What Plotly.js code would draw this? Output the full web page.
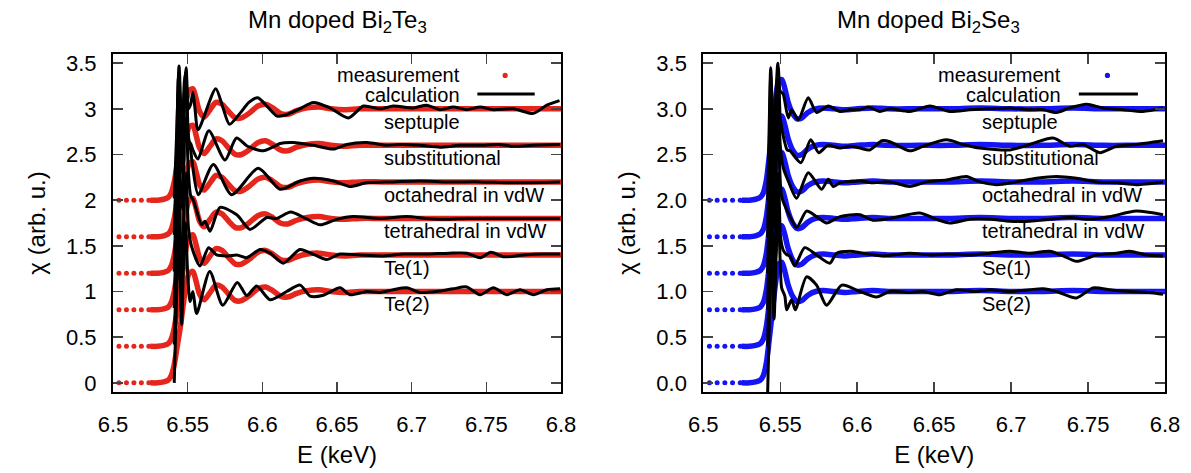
<!DOCTYPE html>
<html><head><meta charset="utf-8">
<script src="https://cdn.plot.ly/plotly-3.0.1.min.js"></script>
<style>body{margin:0;background:#fff}#chart{width:1191px;height:473px}</style>
</head><body><div id="chart"></div>
<script>
// ---------- data ----------
const offsets = [2.0, 1.6, 1.2, 0.8, 0.4, 0.0];
const teLabels = ['septuple', 'substitutional', 'octahedral in vdW', 'tetrahedral in vdW', 'Te(1)', 'Te(2)'];
const seLabels = ['septuple', 'substitutional', 'octahedral in vdW', 'tetrahedral in vdW', 'Se(1)', 'Se(2)'];
const labelY = [2.86, 2.46, 2.06, 1.66, 1.26, 0.86];
const xTicks = [6.5, 6.55, 6.6, 6.65, 6.7, 6.75, 6.8];
const yTicks = [0, 0.5, 1, 1.5, 2, 2.5, 3, 3.5];

// measurement: sparse pre-edge points + dense part (normalised, before offset)
const preE = [6.504, 6.509, 6.514, 6.519, 6.524];
const preMu = [0, 0, 0, 0, 0];
const teMeasE = [6.525, 6.530, 6.534, 6.537, 6.539, 6.541, 6.543, 6.545, 6.547, 6.549, 6.551, 6.5535, 6.5555, 6.558, 6.561, 6.565, 6.569, 6.573, 6.578, 6.582, 6.586, 6.591, 6.597, 6.602, 6.607, 6.612, 6.617, 6.623, 6.630, 6.638, 6.646, 6.655, 6.665, 6.680, 6.700, 6.720, 6.740, 6.760, 6.780, 6.800];
const teMeasMu = [0, 0, 0.01, 0.03, 0.08, 0.2, 0.4, 0.6, 0.85, 1.08, 1.2, 1.22, 1.12, 0.97, 0.91, 0.99, 1.07, 1.05, 0.96, 0.9, 0.9, 0.95, 1.03, 1.05, 1.01, 0.95, 0.94, 0.98, 1.01, 1.02, 1.0, 0.99, 1.0, 1.0, 1.0, 1.0, 1.0, 1.0, 1.0, 1.0];
const seMeasE = [6.525, 6.530, 6.534, 6.537, 6.539, 6.541, 6.543, 6.545, 6.547, 6.549, 6.551, 6.553, 6.555, 6.558, 6.561, 6.564, 6.568, 6.573, 6.578, 6.585, 6.592, 6.600, 6.610, 6.620, 6.640, 6.660, 6.680, 6.700, 6.720, 6.740, 6.760, 6.780, 6.800];
const seMeasMu = [0, 0, 0.01, 0.03, 0.08, 0.22, 0.5, 0.8, 1.1, 1.3, 1.32, 1.22, 1.08, 0.95, 0.89, 0.9, 0.96, 1.0, 1.01, 1.0, 0.99, 1.0, 1.01, 1.0, 1.0, 1.0, 1.01, 1.0, 1.0, 1.01, 1.0, 1.0, 1.0];

// calculations, Bi2Te3 (values as plotted)
const teSeptE = [6.5410, 6.5428, 6.5442, 6.5455, 6.5465, 6.5478, 6.5490, 6.5505, 6.5520, 6.5535, 6.5548, 6.5570, 6.5688, 6.5735, 6.5780, 6.5850, 6.5910, 6.5970, 6.6030, 6.6100, 6.6150, 6.6250, 6.6342, 6.6453, 6.6576, 6.6677, 6.6788, 6.6877, 6.7011, 6.7101, 6.7190, 6.7279, 6.7369, 6.7458, 6.7547, 6.7681, 6.7815, 6.7905, 6.7990];
const teSeptY = [2.02, 2.80, 3.47, 3.00, 2.75, 3.20, 3.45, 3.00, 3.05, 3.18, 3.02, 2.77, 3.22, 3.02, 2.83, 2.95, 3.07, 3.12, 3.03, 2.92, 2.93, 3.00, 3.07, 3.01, 2.90, 3.03, 3.00, 3.03, 3.01, 3.04, 2.99, 3.02, 2.99, 3.02, 2.99, 3.00, 2.95, 3.04, 3.09];
const teSubsE = [6.5410, 6.5425, 6.5438, 6.5450, 6.5463, 6.5478, 6.5490, 6.5505, 6.5520, 6.5535, 6.5569, 6.5642, 6.5750, 6.5827, 6.5900, 6.6007, 6.6070, 6.6119, 6.6208, 6.6342, 6.6476, 6.6565, 6.6700, 6.6833, 6.6922, 6.7056, 6.7190, 6.7324, 6.7458, 6.7580, 6.7680, 6.7815, 6.7994];
const teSubsY = [1.62, 2.50, 3.35, 2.80, 2.55, 3.30, 3.40, 2.65, 2.62, 2.55, 2.45, 2.76, 2.44, 2.68, 2.59, 2.54, 2.58, 2.62, 2.63, 2.60, 2.56, 2.61, 2.63, 2.60, 2.61, 2.60, 2.58, 2.60, 2.60, 2.61, 2.59, 2.60, 2.61];
const teOctaE = [6.5410, 6.5425, 6.5438, 6.5450, 6.5463, 6.5478, 6.5490, 6.5505, 6.5520, 6.5535, 6.5571, 6.5672, 6.5795, 6.5973, 6.6119, 6.6252, 6.6342, 6.6476, 6.6587, 6.6698, 6.6877, 6.7056, 6.7235, 6.7458, 6.7681, 6.7994];
const teOctaY = [1.22, 2.20, 3.20, 2.60, 2.30, 3.10, 3.30, 2.70, 2.55, 2.35, 2.06, 2.39, 2.06, 2.35, 2.12, 2.21, 2.24, 2.21, 2.15, 2.19, 2.20, 2.21, 2.20, 2.20, 2.19, 2.20];
const teTetrE = [6.5410, 6.5425, 6.5438, 6.5450, 6.5465, 6.5478, 6.5490, 6.5505, 6.5520, 6.5538, 6.5594, 6.5616, 6.5650, 6.5717, 6.5829, 6.5918, 6.6030, 6.6096, 6.6190, 6.6290, 6.6387, 6.6498, 6.6610, 6.6788, 6.6967, 6.7101, 6.7235, 6.7369, 6.7547, 6.7770, 6.7994];
const teTetrY = [0.82, 1.80, 2.90, 2.20, 1.90, 2.70, 2.90, 2.30, 2.05, 2.00, 1.73, 1.77, 1.66, 1.92, 1.84, 1.68, 1.81, 1.80, 1.87, 1.80, 1.73, 1.79, 1.82, 1.80, 1.82, 1.80, 1.79, 1.80, 1.80, 1.80, 1.80];
const teTe1E = [6.5410, 6.5425, 6.5437, 6.5450, 6.5462, 6.5475, 6.5490, 6.5505, 6.5527, 6.5583, 6.5640, 6.5694, 6.5772, 6.5829, 6.5895, 6.5985, 6.6052, 6.6141, 6.6252, 6.6350, 6.6431, 6.6520, 6.6650, 6.6800, 6.6950, 6.7100, 6.7250, 6.7370, 6.7460, 6.7530, 6.7620, 6.7750, 6.7880, 6.7994];
const teTe1Y = [0.42, 1.30, 2.40, 1.60, 1.10, 1.90, 2.30, 1.70, 1.49, 1.28, 1.48, 1.40, 1.39, 1.40, 1.37, 1.46, 1.42, 1.31, 1.46, 1.40, 1.35, 1.41, 1.40, 1.39, 1.41, 1.41, 1.42, 1.42, 1.37, 1.43, 1.38, 1.40, 1.41, 1.41];
const teTe2E = [6.5410, 6.5425, 6.5437, 6.5448, 6.5460, 6.5472, 6.5485, 6.5500, 6.5516, 6.5535, 6.5560, 6.5648, 6.5735, 6.5832, 6.5896, 6.5962, 6.6052, 6.6163, 6.6253, 6.6320, 6.6409, 6.6520, 6.6587, 6.6699, 6.6788, 6.6877, 6.6967, 6.7056, 6.7168, 6.7279, 6.7369, 6.7458, 6.7547, 6.7636, 6.7726, 6.7815, 6.7905, 6.7994];
const teTe2Y = [0.00, 0.90, 1.90, 1.20, 0.64, 1.30, 1.75, 1.20, 0.89, 1.00, 0.76, 1.22, 0.85, 1.10, 0.955, 1.06, 0.91, 1.00, 1.07, 0.95, 0.96, 1.04, 0.965, 1.00, 0.99, 1.02, 1.04, 0.99, 1.00, 1.03, 1.05, 0.965, 1.04, 0.965, 1.02, 0.965, 1.02, 1.03];

// calculations, Bi2Se3 (values as plotted)
const seSeptE = [6.5418, 6.5428, 6.5438, 6.5450, 6.5462, 6.5476, 6.5484, 6.5498, 6.5519, 6.5552, 6.5574, 6.5617, 6.5682, 6.5736, 6.5812, 6.5888, 6.5953, 6.6018, 6.6071, 6.6147, 6.6212, 6.6342, 6.6472, 6.6602, 6.6732, 6.6862, 6.6992, 6.7121, 6.7208, 6.7295, 6.7381, 6.7490, 6.7597, 6.7727, 6.7857, 6.7987];
const seSeptY = [2.00, 2.80, 3.45, 3.00, 2.90, 3.30, 3.50, 3.20, 3.16, 2.90, 2.99, 2.88, 3.12, 2.96, 3.03, 2.97, 2.99, 2.99, 3.02, 2.97, 3.00, 2.97, 3.03, 2.97, 2.99, 3.00, 3.01, 2.99, 2.99, 2.96, 3.01, 3.05, 3.01, 2.99, 2.97, 3.01];
const seSubsE = [6.5418, 6.5428, 6.5438, 6.5450, 6.5462, 6.5476, 6.5488, 6.5500, 6.5520, 6.5545, 6.5563, 6.5634, 6.5698, 6.5750, 6.5810, 6.5888, 6.5953, 6.6018, 6.6082, 6.6160, 6.6212, 6.6342, 6.6429, 6.6581, 6.6688, 6.6797, 6.6992, 6.7121, 6.7273, 6.7381, 6.7468, 6.7576, 6.7684, 6.7814, 6.7987];
const seSubsY = [1.60, 2.50, 3.36, 2.90, 2.60, 3.20, 3.45, 2.90, 2.70, 2.55, 2.54, 2.41, 2.66, 2.52, 2.60, 2.57, 2.59, 2.57, 2.55, 2.65, 2.64, 2.54, 2.59, 2.66, 2.61, 2.57, 2.55, 2.61, 2.68, 2.59, 2.61, 2.52, 2.59, 2.61, 2.65];
const seOctaE = [6.5418, 6.5428, 6.5438, 6.5450, 6.5462, 6.5476, 6.5488, 6.5500, 6.5520, 6.5552, 6.5606, 6.5682, 6.5769, 6.5812, 6.5844, 6.5888, 6.6018, 6.6104, 6.6212, 6.6342, 6.6451, 6.6581, 6.6710, 6.6797, 6.6905, 6.7035, 6.7165, 6.7295, 6.7425, 6.7555, 6.7684, 6.7814, 6.7987];
const seOctaY = [1.20, 2.10, 3.10, 2.60, 2.20, 2.90, 3.30, 2.60, 2.35, 2.21, 2.02, 2.30, 2.12, 2.23, 2.15, 2.19, 2.21, 2.19, 2.20, 2.15, 2.20, 2.22, 2.26, 2.20, 2.17, 2.20, 2.24, 2.26, 2.24, 2.20, 2.19, 2.17, 2.20];
const seTetrE = [6.5418, 6.5428, 6.5438, 6.5450, 6.5462, 6.5476, 6.5488, 6.5509, 6.5563, 6.5606, 6.5671, 6.5736, 6.5801, 6.5888, 6.6018, 6.6100, 6.6212, 6.6407, 6.6516, 6.6602, 6.6732, 6.6862, 6.6992, 6.7121, 6.7251, 6.7381, 6.7511, 6.7641, 6.7814, 6.7987];
const seTetrY = [0.80, 1.70, 2.80, 2.20, 1.70, 2.50, 2.90, 2.04, 1.82, 1.70, 1.88, 1.82, 1.75, 1.82, 1.84, 1.78, 1.80, 1.86, 1.79, 1.75, 1.79, 1.79, 1.77, 1.77, 1.79, 1.81, 1.79, 1.82, 1.88, 1.84];
const seSe1E = [6.5418, 6.5428, 6.5438, 6.5450, 6.5462, 6.5476, 6.5488, 6.5502, 6.5520, 6.5545, 6.5563, 6.5594, 6.5659, 6.5736, 6.5823, 6.5866, 6.5953, 6.6039, 6.6169, 6.6342, 6.6472, 6.6602, 6.6732, 6.6862, 6.6992, 6.7121, 6.7251, 6.7338, 6.7425, 6.7555, 6.7684, 6.7771, 6.7879, 6.7987];
const seSe1Y = [0.40, 1.20, 2.20, 1.60, 1.20, 2.00, 2.30, 1.60, 1.45, 1.40, 1.39, 1.28, 1.48, 1.40, 1.31, 1.42, 1.44, 1.42, 1.39, 1.42, 1.40, 1.41, 1.40, 1.42, 1.44, 1.42, 1.44, 1.39, 1.33, 1.40, 1.42, 1.44, 1.40, 1.39];
const seSe2E = [6.5418, 6.5428, 6.5438, 6.5448, 6.5460, 6.5475, 6.5488, 6.5500, 6.5509, 6.5530, 6.5542, 6.5574, 6.5598, 6.5671, 6.5736, 6.5801, 6.5900, 6.6018, 6.6126, 6.6212, 6.6342, 6.6429, 6.6537, 6.6645, 6.6775, 6.6862, 6.6992, 6.7121, 6.7208, 6.7295, 6.7425, 6.7532, 6.7641, 6.7771, 6.7900, 6.7987];
const seSe2Y = [-0.12, 0.60, 1.60, 1.20, 0.70, 1.50, 1.90, 1.30, 1.04, 0.95, 0.80, 0.91, 0.80, 1.16, 1.07, 0.85, 1.07, 1.00, 0.94, 1.00, 0.99, 1.00, 0.965, 1.02, 1.00, 1.02, 1.00, 1.02, 1.03, 1.00, 0.93, 1.04, 1.02, 1.00, 0.99, 0.97];

const teCalcE = [teSeptE, teSubsE, teOctaE, teTetrE, teTe1E, teTe2E];
const teCalcY = [teSeptY, teSubsY, teOctaY, teTetrY, teTe1Y, teTe2Y];
const seCalcE = [seSeptE, seSubsE, seOctaE, seTetrE, seSe1E, seSe2E];
const seCalcY = [seSeptY, seSubsY, seOctaY, seTetrY, seSe1Y, seSe2Y];

// ---------- style ----------
const RED = '#e5261c', BLUE = '#1414f5', FONT = 'Liberation Sans, Arial, Helvetica, sans-serif';
const W = 1191, H = 473;

function panel(xa, ya, measE, measMu, calcE, calcY, color) {
  const tr = [];
  offsets.forEach((off) => {
    tr.push({x: preE, y: preMu.map(v => v + off), xaxis: xa, yaxis: ya, mode: 'markers',
      marker: {color: color, size: 5}, showlegend: false, hoverinfo: 'skip'});
    tr.push({x: measE, y: measMu.map(v => v + off), xaxis: xa, yaxis: ya, mode: 'lines',
      line: {color: color, width: 5.5, shape: 'spline', smoothing: 0.8}, showlegend: false, hoverinfo: 'skip'});
  });
  offsets.forEach((off, i) => {
    tr.push({x: calcE[i], y: calcY[i], xaxis: xa, yaxis: ya, mode: 'lines',
      line: {color: '#000', width: 3, shape: 'spline', smoothing: 0.7}, showlegend: false, hoverinfo: 'skip'});
  });
  return tr;
}

const traces = [].concat(
  panel('x', 'y', teMeasE, teMeasMu, teCalcE, teCalcY, RED),
  panel('x2', 'y2', seMeasE, seMeasMu, seCalcE, seCalcY, BLUE)
);

function xax(dom, anchor) {
  return {domain: dom, anchor: anchor, range: [6.5, 6.8], tickvals: xTicks, ticks: 'inside', ticklen: 10, tickwidth: 1.5,
    showline: true, linewidth: 2, linecolor: '#000', mirror: 'ticks', showgrid: false, zeroline: false,
    tickfont: {size: 22, color: '#000'}, ticklabelstandoff: 12,
    title: {text: 'E (keV)', font: {size: 24, color: '#000'}, standoff: 10}};
}
function yax(anchor, fmt) {
  return {domain: [1 - 392 / H, 1 - 54 / H], range: [-0.1, 3.6], tickvals: yTicks, tickformat: fmt,
    anchor: anchor, ticks: 'inside', ticklen: 10, tickwidth: 1.5,
    showline: true, linewidth: 2, linecolor: '#000', mirror: 'ticks', showgrid: false, zeroline: false,
    tickfont: {size: 22, color: '#000'}, ticklabelstandoff: 10,
    title: {text: 'χ (arb. u.)', font: {size: 24, color: '#000'}, standoff: 14}};
}

const annotations = [], shapes = [];
function decorate(xr, yr, labels, colorDot, titleText, titleX) {
  labels.forEach((t, i) => annotations.push({x: 6.68, y: labelY[i], xref: xr, yref: yr, text: t,
    showarrow: false, xanchor: 'left', yanchor: 'middle', font: {size: 20, color: '#000'}}));
  annotations.push({x: 6.734, y: 3.37, xref: xr, yref: yr, text: 'measurement', showarrow: false,
    xanchor: 'right', yanchor: 'middle', font: {size: 20, color: '#000'}});
  annotations.push({x: 6.734, y: 3.155, xref: xr, yref: yr, text: 'calculation', showarrow: false,
    xanchor: 'right', yanchor: 'middle', font: {size: 20, color: '#000'}});
  shapes.push({type: 'circle', xref: xr, yref: yr, xsizemode: 'pixel', ysizemode: 'pixel',
    xanchor: 6.7626, yanchor: 3.366, x0: -2.6, x1: 2.6, y0: -2.6, y1: 2.6,
    fillcolor: colorDot, line: {width: 0}});
  shapes.push({type: 'line', xref: xr, yref: yr, x0: 6.744, x1: 6.7824, y0: 3.162, y1: 3.162,
    line: {color: '#000', width: 3}});
  annotations.push({x: titleX / W, y: 1 - 22 / H, xref: 'paper', yref: 'paper', text: titleText,
    showarrow: false, xanchor: 'center', yanchor: 'middle', font: {size: 24, color: '#000'}});
}
decorate('x', 'y', teLabels, RED, 'Mn doped Bi<sub>2</sub>Te<sub>3</sub>', 337);
decorate('x2', 'y2', seLabels, BLUE, 'Mn doped Bi<sub>2</sub>Se<sub>3</sub>', 928);

const layout = {
  width: W, height: H, margin: {l: 0, r: 0, t: 0, b: 0}, paper_bgcolor: '#fff', plot_bgcolor: '#fff',
  font: {family: FONT, color: '#000'}, showlegend: false,
  xaxis: xax([113 / W, 561 / W], 'y'),
  yaxis: yax('x', ''),
  xaxis2: xax([703.3 / W, 1165 / W], 'y2'),
  yaxis2: yax('x2', '.1f'),
  annotations: annotations, shapes: shapes
};

Plotly.newPlot('chart', traces, layout, {staticPlot: true});
</script></body></html>
